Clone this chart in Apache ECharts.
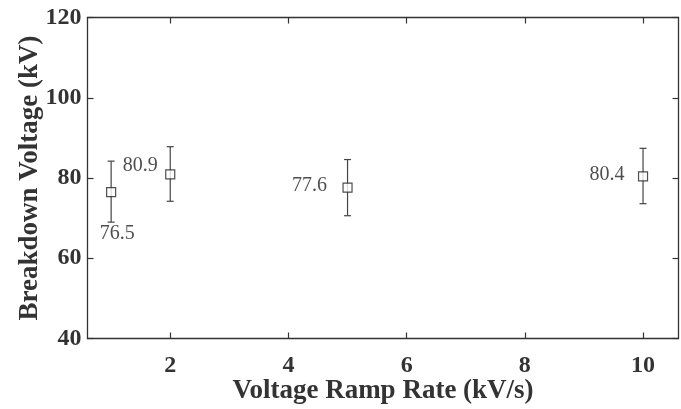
<!DOCTYPE html>
<html>
<head>
<meta charset="utf-8">
<script src="https://cdn.jsdelivr.net/npm/echarts@6/dist/echarts.min.js"></script>
<style>html,body{margin:0;padding:0;background:#fff}#c{width:681px;height:409px}</style>
</head>
<body>
<div id="c"></div>
<script>
const rampRates = [1, 2, 5, 10];
const meanVoltage = [76.5, 80.9, 77.6, 80.4];
const lowVoltage = [69.0, 74.2, 70.6, 73.6];
const highVoltage = [84.2, 87.8, 84.6, 87.4];
const xTicks = [2, 4, 6, 8, 10];
const yTicks = [40, 60, 80, 100, 120];

const labelOffsets = [[6, 42], [-30, -9], [-38, -2], [-36, -2]];
const font = 'Liberation Serif';
const axisColor = '#333';

const chart = echarts.init(document.getElementById('c'), null, {renderer: 'canvas'});

const scatterData = rampRates.map((x, i) => ({
  value: [x, meanVoltage[i]],
  label: {offset: labelOffsets[i]}
}));
const errData = rampRates.map((x, i) => [x, lowVoltage[i], highVoltage[i]]);

const baseX = {
  type: 'value', min: 0.6, max: 10.6, interval: 2,
  splitLine: {show: false},
  axisLine: {show: true, onZero: false, lineStyle: {color: axisColor, width: 1.3}},
  axisTick: {show: true, inside: true, length: 6, lineStyle: {color: axisColor, width: 1.2},
    customValues: xTicks},
};
const baseY = {
  type: 'value', min: 40, max: 120, interval: 20,
  splitLine: {show: false},
  axisLine: {show: true, onZero: false, lineStyle: {color: axisColor, width: 1.3}},
  axisTick: {show: true, inside: true, length: 6, lineStyle: {color: axisColor, width: 1.2}},
};

chart.setOption({
  animation: false,
  backgroundColor: '#fff',
  grid: {left: 87.5, right: 2.5, top: 17.5, bottom: 70.5, containLabel: false, outerBoundsMode: 'none'},
  xAxis: [
    Object.assign({}, baseX, {
      position: 'bottom',
      name: 'Voltage Ramp Rate (kV/s)', nameLocation: 'middle', nameGap: 39, nameMoveOverlap: false,
      nameTextStyle: {fontFamily: font, fontWeight: 'bold', fontSize: 27, color: axisColor},
      axisLabel: {show: true, margin: 15, fontFamily: font, fontWeight: 'bold', fontSize: 24, color: axisColor,
        customValues: xTicks, formatter: v => String(v)}
    }),
    Object.assign({}, baseX, {position: 'top', axisLabel: {show: false}})
  ],
  yAxis: [
    Object.assign({}, baseY, {
      position: 'left',
      name: 'Breakdown Voltage (kV)', nameLocation: 'middle', nameGap: 44, nameMoveOverlap: false,
      nameTextStyle: {fontFamily: font, fontWeight: 'bold', fontSize: 27, color: axisColor},
      axisLabel: {show: true, margin: 6, fontFamily: font, fontWeight: 'bold', fontSize: 24, color: axisColor,
        formatter: v => yTicks.includes(v) ? String(v) : ''}
    }),
    Object.assign({}, baseY, {position: 'right', axisLabel: {show: false}})
  ],
  series: [
    {
      type: 'custom',
      xAxisIndex: 0, yAxisIndex: 0,
      data: errData,
      z: 2,
      renderItem: function (params, api) {
        const x = api.value(0);
        const lo = api.coord([x, api.value(1)]);
        const hi = api.coord([x, api.value(2)]);
        const cap = 3.5;
        const style = {stroke: '#444', lineWidth: 1.2};
        return {
          type: 'group',
          children: [
            {type: 'line', shape: {x1: lo[0], y1: lo[1], x2: hi[0], y2: hi[1]}, style},
            {type: 'line', shape: {x1: lo[0] - cap, y1: lo[1], x2: lo[0] + cap, y2: lo[1]}, style},
            {type: 'line', shape: {x1: hi[0] - cap, y1: hi[1], x2: hi[0] + cap, y2: hi[1]}, style}
          ]
        };
      }
    },
    {
      type: 'scatter',
      xAxisIndex: 0, yAxisIndex: 0,
      data: scatterData,
      symbol: 'rect',
      symbolSize: 9,
      z: 3,
      itemStyle: {color: '#fff', borderColor: '#222', borderWidth: 1.2},
      label: {
        show: true, position: 'inside',
        fontFamily: font, fontSize: 20, color: '#222',
        formatter: p => p.value[1].toFixed(1)
      }
    }
  ]
});
</script>
</body>
</html>
